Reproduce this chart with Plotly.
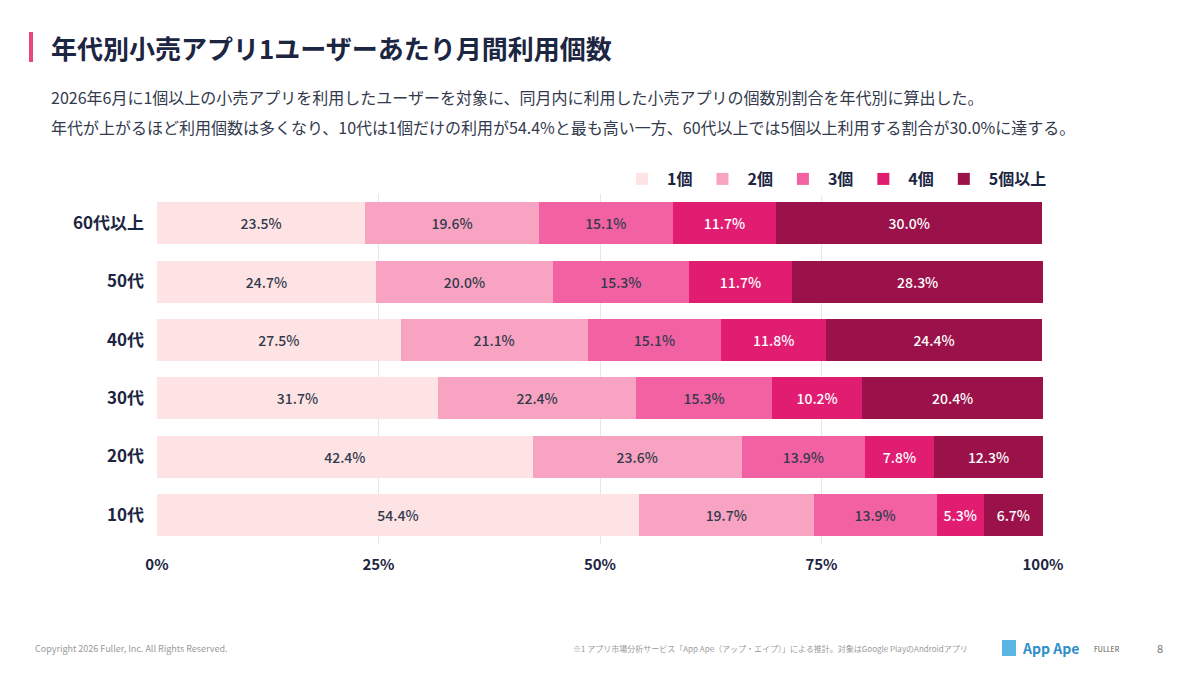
import plotly.graph_objects as go

ages = ["60代以上", "50代", "40代", "30代", "20代", "10代"]
series = ["1個", "2個", "3個", "4個", "5個以上"]
values = {
    "1個": [23.5, 24.7, 27.5, 31.7, 42.4, 54.4],
    "2個": [19.6, 20.0, 21.1, 22.4, 23.6, 19.7],
    "3個": [15.1, 15.3, 15.1, 15.3, 13.9, 13.9],
    "4個": [11.7, 11.7, 11.8, 10.2, 7.8, 5.3],
    "5個以上": [30.0, 28.3, 24.4, 20.4, 12.3, 6.7],
}
colors = ["#fde3e3", "#f7a3c1", "#f262a2", "#e11d72", "#9a1249"]
text_colors = ["#333a4d", "#333a4d", "#333a4d", "white", "white"]
xticks = [0, 25, 50, 75, 100]
xticklabels = ["0%", "25%", "50%", "75%", "100%"]

OFF = 8
W, H = 1200, 675
L, R, T, B = 157 - OFF, 157 + OFF, 194 - OFF, 131 + OFF
FONT = "Noto Sans CJK JP"
NAVY = "#1c2541"

fig = go.Figure()
for s, c, tc in zip(series, colors, text_colors):
    fig.add_trace(go.Bar(
        y=ages, x=values[s], name=s, orientation="h",
        marker=dict(color=c, line=dict(width=0)),
        text=[f"{v:.1f}%" for v in values[s]], textposition="inside",
        insidetextanchor="middle",
        textfont=dict(color=tc, size=14, family=FONT, weight=500),
        hoverinfo="skip",
    ))

def px(x):
    return (x - OFF - L) / (W - L - R)

def py(y):
    return (H - B - (y - OFF)) / (H - T - B)

fig.update_layout(
    width=W, height=H, barmode="stack", bargap=0.28,
    margin=dict(l=L, r=R, t=T, b=B),
    plot_bgcolor="white", paper_bgcolor="white",
    font=dict(family=FONT, color=NAVY),
    showlegend=True,
    legend=dict(orientation="h", x=px(1052), xanchor="right", y=py(179), yanchor="middle",
                font=dict(size=16, color=NAVY, weight="bold"), traceorder="normal",
                itemwidth=40),
    xaxis=dict(range=[0, 100], tickvals=xticks, ticktext=xticklabels,
               showgrid=True, gridcolor="#e6e6e6", zeroline=False,
               tickfont=dict(size=15, color=NAVY, weight="bold"), ticks="", ticklabelstandoff=10),
    yaxis=dict(categoryorder="array", categoryarray=ages[::-1],
               tickfont=dict(size=17, color=NAVY, weight="bold"), ticks="", ticklabelstandoff=12),
    shapes=[dict(type="rect", xref="paper", yref="paper",
                 x0=px(29), x1=px(33), y0=py(62), y1=py(32),
                 fillcolor="#e8467c", line=dict(width=0)),
            dict(type="rect", xref="paper", yref="paper", x0=px(1002), x1=px(1016),
                 y0=py(656), y1=py(640), fillcolor="#5bb5e3", line=dict(width=0))],
    annotations=[
        dict(text="<b>年代別小売アプリ1ユーザーあたり月間利用個数</b>", xref="paper", yref="paper",
             x=px(49), y=py(47), xanchor="left", yanchor="middle", showarrow=False,
             font=dict(size=26, color=NAVY)),
        dict(text="2026年6月に1個以上の小売アプリを利用したユーザーを対象に、同月内に利用した小売アプリの個数別割合を年代別に算出した。",
             xref="paper", yref="paper", x=px(49), y=py(97), xanchor="left", yanchor="middle",
             showarrow=False, font=dict(size=16, color="#333a4d")),
        dict(text="年代が上がるほど利用個数は多くなり、10代は1個だけの利用が54.4%と最も高い一方、60代以上では5個以上利用する割合が30.0%に達する。",
             xref="paper", yref="paper", x=px(49), y=py(127), xanchor="left", yanchor="middle",
             showarrow=False, font=dict(size=16, color="#333a4d")),
        dict(text="Copyright 2026 Fuller, Inc. All Rights Reserved.", xref="paper", yref="paper",
             x=px(33), y=py(648), xanchor="left", yanchor="middle", showarrow=False,
             font=dict(size=9, color="#9a9a9a")),
        dict(text="※1 アプリ市場分析サービス「App Ape（アップ・エイプ）」による推計。対象はGoogle PlayのAndroidアプリ",
             xref="paper", yref="paper", x=px(970), y=py(648), xanchor="right", yanchor="middle",
             showarrow=False, font=dict(size=8, color="#9a9a9a")),
        dict(text="<b>App Ape</b>", xref="paper", yref="paper",
             x=px(1020), y=py(648), xanchor="left", yanchor="middle", showarrow=False,
             font=dict(size=14, color="#2e8fc8")),
        dict(text="FULLER", xref="paper", yref="paper",
             x=px(1092), y=py(649), xanchor="left", yanchor="middle", showarrow=False,
             font=dict(size=7, color="#555")),
        dict(text="8", xref="paper", yref="paper",
             x=px(1160), y=py(648), xanchor="center", yanchor="middle", showarrow=False,
             font=dict(size=11, color="#777")),
    ],
)
fig.write_html("out.html")
